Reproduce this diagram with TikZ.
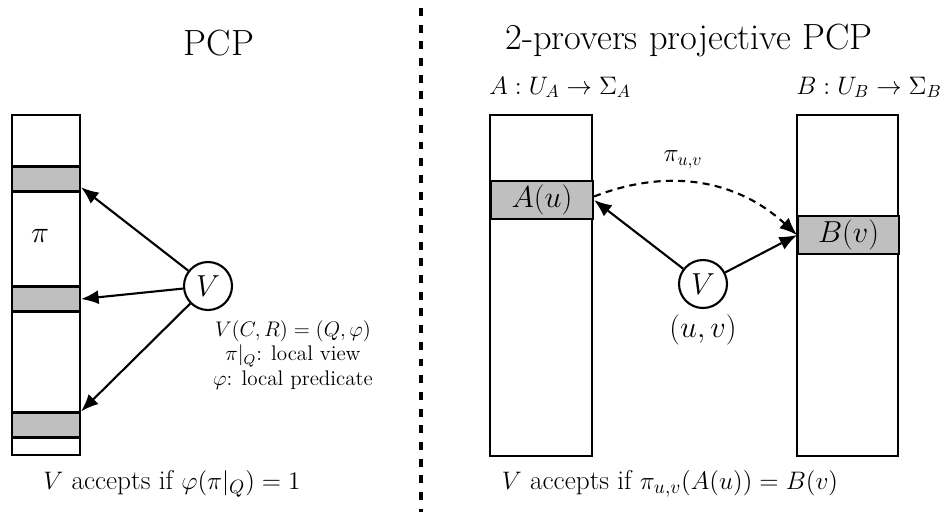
\documentclass[tikz,border=0pt]{standalone}
\usepackage{amsmath}
\usetikzlibrary{arrows.meta,positioning}
\begin{document}
\begin{tikzpicture}[x=0.02cm,y=-0.02cm,>={Latex[length=10pt,width=8pt]},
  tape/.style={draw,line width=1.2pt,inner sep=0pt,fill=white},
  band/.style={draw,line width=1.2pt,fill=black!25,inner sep=0pt},
  verifier/.style={draw,circle,line width=1.2pt,minimum size=0.96cm,inner sep=0pt,font=\LARGE},
  query/.style={line width=1.2pt,->},
  bottomtext/.style={font=\fontsize{15.5}{19}\selectfont},
  tapelabel/.style={font=\Large,anchor=south west,inner sep=0pt}]
  \useasboundingbox (0,0) rectangle (945,512);
  % dividing line
  \draw[line width=2.3pt,dash pattern=on 4.5pt off 5pt] (421,8) -- (421,512);
  % left: PCP
  \node[font=\huge] (tl) at (219,43) {PCP};
  \node[tape,minimum width=1.36cm,minimum height=6.8cm] (tapeL) at (46,285) {};
  \node[band,minimum width=1.36cm,minimum height=0.5cm] (b1) at (46,179) {};
  \node[band,minimum width=1.36cm,minimum height=0.5cm] (b2) at (46,299) {};
  \node[band,minimum width=1.36cm,minimum height=0.5cm] (b3) at (46,425) {};
  \node[font=\LARGE] (pi) at (40,236) {$\pi$};
  \node[verifier] (vl) at (208,286) {$V$};
  \draw[query] (vl) -- ([yshift=3pt]b1.south east);
  \draw[query] (vl) -- (b2.east);
  \draw[query] (vl) -- (b3.north east);
  \node[font=\large,align=center] (note) at (293,355) {$V(C,R)=(Q,\varphi)$\\ $\pi|_Q$: local view\\ $\varphi$: local predicate};
  \node[bottomtext] (accl) at (172,484) {$V$ accepts if $\varphi(\pi|_Q)=1$};
  % right: 2-provers projective PCP
  \node[font=\huge] (tr) at (689,40) {2-provers projective PCP};
  \node[tape,minimum width=2.04cm,minimum height=6.82cm] (tapeA) at (541,285.5) {};
  \node[tape,minimum width=2.02cm,minimum height=6.82cm] (tapeB) at (847.5,285.5) {};
  \node[tapelabel] (la) at ([yshift=9pt]tapeA.north west) {$A: U_A\rightarrow\Sigma_A$};
  \node[tapelabel] (lb) at ([yshift=9pt]tapeB.north west) {$B: U_B\rightarrow\Sigma_B$};
  \node[band,minimum width=2.04cm,minimum height=0.68cm,font=\LARGE,anchor=west,inner sep=2pt] (au) at (490,200) {$A(u)$};
  \node[band,minimum width=2.02cm,minimum height=0.68cm,font=\LARGE,anchor=west,inner sep=2pt] (bv) at (797,235) {$B(v)$};
  \node[verifier] (vr) at (703,284) {$V$};
  \node[font=\LARGE] (uv) at (703,330) {$(u,v)$};
  \draw[query] (vr) -- (au.east);
  \draw[query] (vr) -- (bv.west);
  \draw[query,dash pattern=on 4pt off 3pt] ([yshift=2pt]au.east) to[bend left=32] (bv.west);
  \node[font=\Large] (puv) at (683,160) {$\pi_{u,v}$};
  \node[bottomtext] (accr) at (670,484) {$V$ accepts if $\pi_{u,v}(A(u))=B(v)$};
\end{tikzpicture}
\end{document}
